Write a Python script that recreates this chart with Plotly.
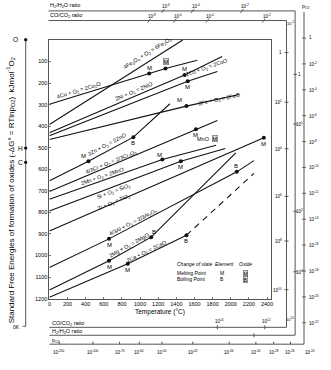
import plotly.graph_objects as go

# ---------------- data ----------------
temp_ticks = list(range(0, 2401, 200))
dg_ticks = list(range(100, 1201, 100))

cu_T = [0, 1100, 1280, 1630]
cu_G = [298, 156, 132, 94]
fe3o4_T = [0, 1470]
fe3o4_G = [392, 0]
ni_T = [0, 1490, 1905]
ni_G = [431, 163, 77]
co_T = [0, 1525, 1852]
co_G = [445, 192, 146]
feo_T = [0, 1511, 2091]
feo_G = [462, 307, 253]
zn_T = [0, 430, 926, 1329]
zn_G = [653, 563, 451, 296]
cr_T = [0, 1615, 1852]
cr_G = [703, 414, 374]
mn_T = [0, 1245, 1838]
mn_G = [739, 555, 489]
si_T = [0, 1449, 1939]
si_G = [794, 563, 504]
ti_T = [0, 2364]
ti_G = [886, 454]
al_T = [0, 657, 2066, 2255]
al_G = [1056, 923, 612, 560]
mg_T = [0, 657, 1122, 2055]
mg_G = [1160, 1025, 915, 524]
ca_T = [0, 864, 1511]
ca_G = [1194, 1038, 906]
ca_vap_T = [1511, 2255]
ca_vap_G = [906, 619]

# nomogram scale labels
h2_top_labels = ["10<sup>-6</sup>", "10<sup>-4</sup>", "10<sup>-2</sup>"]
co_top_labels = ["10<sup>-8</sup>", "10<sup>-6</sup>", "10<sup>-4</sup>", "10<sup>-2</sup>"]
co_right_labels = ["1", "10<sup>2</sup>", "10<sup>4</sup>", "10<sup>6</sup>", "10<sup>8</sup>", "10<sup>10</sup>"]
h2_right_labels = ["1", "10<sup>1</sup>", "10<sup>2</sup>", "10<sup>3</sup>"]
po2_right_labels = ["1", "10<sup>-2</sup>", "10<sup>-4</sup>", "10<sup>-6</sup>", "10<sup>-8</sup>", "10<sup>-10</sup>",
                    "10<sup>-12</sup>", "10<sup>-14</sup>", "10<sup>-16</sup>", "10<sup>-18</sup>", "10<sup>-20</sup>",
                    "10<sup>-22</sup>"]
co_bottom_labels = ["10<sup>14</sup>", "10<sup>12</sup>"]
po2_bottom_labels = ["10<sup>-200</sup>", "10<sup>-100</sup>", "10<sup>-70</sup>", "10<sup>-60</sup>", "10<sup>-50</sup>",
                     "10<sup>-42</sup>", "10<sup>-34</sup>", "10<sup>-30</sup>", "10<sup>-28</sup>", "10<sup>-26</sup>",
                     "10<sup>-24</sup>"]

# ---------------- figure ----------------
W, H = 331, 370
FONT = "Liberation Sans Narrow, Liberation Sans, Arial, sans-serif"
INK = "#000000"
FRAME = "#555555"


def px(x):
    return x / W


def py(y):
    return 1 - y / H


fig = go.Figure()

series = [(cu_T, cu_G), (fe3o4_T, fe3o4_G), (ni_T, ni_G), (co_T, co_G), (feo_T, feo_G),
          (zn_T, zn_G), (cr_T, cr_G), (mn_T, mn_G), (si_T, si_G), (ti_T, ti_G),
          (al_T, al_G), (mg_T, mg_G), (ca_T, ca_G)]
for T, G in series:
    fig.add_trace(go.Scatter(x=T, y=G, mode="lines", line=dict(color="#111111", width=1.1),
                             hoverinfo="skip", showlegend=False))
fig.add_trace(go.Scatter(x=ca_vap_T, y=ca_vap_G, mode="lines",
                         line=dict(color="#111111", width=1.1, dash="6px,5px"),
                         hoverinfo="skip", showlegend=False))

# change-of-state points: (T, G, label, dx, dy, boxed)
points = [
    (cu_T[1], cu_G[1], "M", 0, 6, False),
    (cu_T[2], cu_G[2], "M", 0, 7, True),
    (ni_T[1], ni_G[1], "M", 0, 6, False),
    (co_T[1], co_G[1], "M", 0, -6, False),
    (feo_T[1], feo_G[1], "M", -7, 6, False),
    (zn_T[1], zn_G[1], "M", -5, 5, False),
    (zn_T[2], zn_G[2], "B", 0, -6, False),
    (cr_T[1], cr_G[1], "M", 0, -6, False),
    (mn_T[1], mn_G[1], "M", -3, 5, False),
    (si_T[1], si_G[1], "M", 0, -6, False),
    (ti_T[1], ti_G[1], "M", 0, -6, False),
    (al_T[1], al_G[1], "M", 0, -6, False),
    (al_T[2], al_G[2], "B", -1, 6, False),
    (mg_T[1], mg_G[1], "M", 0, -6, False),
    (mg_T[2], mg_G[2], "B", 3, 5, False),
    (ca_T[1], ca_G[1], "M", 0, -6, False),
    (ca_T[2], ca_G[2], "B", 0, -6, False),
]
fig.add_trace(go.Scatter(x=[p[0] for p in points], y=[p[1] for p in points], mode="markers",
                         marker=dict(size=4, color="#111111"), hoverinfo="skip", showlegend=False))

annotations = []
for T, G, lab, dx, dy, boxed in points:
    a = dict(x=T, y=G, xref="x", yref="y", text=lab, showarrow=False, xshift=dx, yshift=dy,
             font=dict(family=FONT, size=6, color=INK))
    if boxed:
        a.update(bgcolor="#d8d8d8", bordercolor="#666", borderwidth=0.6, borderpad=0)
    annotations.append(a)

# reaction labels: (text, T, G, angle)
reactions = [
    ("4Cu + O<sub>2</sub> = 2Cu<sub>2</sub>O", 327, 233, -17),
    ("4Fe<sub>3</sub>O<sub>4</sub> + O<sub>2</sub> = 6Fe<sub>2</sub>O<sub>3</sub>", 1078, 63, -32),
    ("2Ni + O<sub>2</sub> = 2NiO", 937, 238, -23),
    ("2Co + O<sub>2</sub> = 2CoO", 1743, 130, -19),
    ("2Fe + O<sub>2</sub> = 2FeO", 1874, 274, -12),
    ("2Zn + O<sub>2</sub> = 2ZnO", 643, 486, -28),
    ("4/3Cr + O<sub>2</sub> = 2/3Cr<sub>2</sub>O<sub>3</sub>", 675, 569, -22),
    ("2Mn + O<sub>2</sub> = 2MnO", 588, 633, -19),
    ("Si + O<sub>2</sub> = SiO<sub>2</sub>", 708, 702, -20),
    ("Ti + O<sub>2</sub> = TiO<sub>2</sub>", 708, 755, -23),
    ("4/3Al + O<sub>2</sub> = 2/3Al<sub>2</sub>O<sub>3</sub>", 926, 849, -27),
    ("2Mg + O<sub>2</sub> = 2MgO", 882, 955, -29),
    ("2Ca + O<sub>2</sub> = 2CaO", 1078, 983, -26),
]
for text, T, G, ang in reactions:
    annotations.append(dict(x=T, y=G, xref="x", yref="y", text=text, showarrow=False, textangle=ang,
                            xanchor="center", yanchor="middle",
                            font=dict(family=FONT, size=5.5, color=INK)))
annotations.append(dict(x=1699, y=459, xref="x", yref="y", text="MnO", showarrow=False,
                        font=dict(family=FONT, size=5.5, color=INK)))
annotations.append(dict(x=1826, y=457, xref="x", yref="y", text="M", showarrow=False,
                        bgcolor="#d8d8d8", bordercolor="#666", borderwidth=0.6, borderpad=0,
                        font=dict(family=FONT, size=5.5, color=INK)))


def pann(x, y, text, size=5, xanchor="center", yanchor="middle", angle=0, italic=False, color=INK, **kw):
    f = dict(family=FONT, size=size, color=color)
    if italic:
        f["style"] = "italic"
    d = dict(x=px(x), y=py(y), xref="paper", yref="paper", text=text, showarrow=False,
             xanchor=xanchor, yanchor=yanchor, textangle=angle, font=f)
    d.update(kw)
    annotations.append(d)


# axis titles
pann(160, 315, "Temperature (°C)", size=6.5)
pann(9, 192, "Standard Free Energies of formation of oxides (-ΔG° = RTlnp<sub>O2</sub>)  kJmol<sup>-1</sup>O<sub>2</sub>",
     size=8, angle=-90)

# legend
pann(175, 266.5, "Change of state", size=5, xanchor="left", italic=True)
pann(225, 266.5, "Element", size=5, italic=True)
pann(246.5, 266.5, "Oxide", size=5, italic=True)
pann(175, 275.5, "Melting Point", size=5, xanchor="left")
pann(175, 281.5, "Boiling Point", size=5, xanchor="left")
pann(223, 275.5, "M", size=5)
pann(223, 281.5, "B", size=5)
pann(246, 275.5, "M", size=5, bgcolor="#d8d8d8", bordercolor="#666", borderwidth=0.6, borderpad=0)
pann(246, 282, "B", size=5, bgcolor="#d8d8d8", bordercolor="#666", borderwidth=0.6, borderpad=0)

# left 0 K line with pivot points
shapes = []


def pline(x0, y0, x1, y1, color=FRAME, width=1):
    shapes.append(dict(type="line", xref="paper", yref="paper", x0=px(x0), y0=py(y0), x1=px(x1), y1=py(y1),
                       line=dict(color=color, width=width)))


pline(24, 40, 24, 329)
pline(21, 329, 24, 329)
for yy, lab in [(40, "O"), (149.3, "H"), (163.7, "C")]:
    shapes.append(dict(type="circle", xref="paper", yref="paper", x0=px(22.3), x1=px(25.7),
                       y0=py(yy + 1.7), y1=py(yy - 1.7), fillcolor="#111111", line=dict(width=0)))
    pann(18.5, yy, lab, size=6.5, xanchor="right" if lab == "O" else "center")
pann(20, 330, "0K", size=5, xanchor="right")

# nomogram frames
pline(47, 11, 296.7, 11)
pline(296.7, 11, 296.7, 338)
pline(48, 338, 296.7, 338)
pline(47, 20.7, 288, 20.7)
pline(288, 20.7, 288, 330)
pline(48, 330, 288, 330)
pline(305.7, 12, 305.7, 347)
pline(48, 347, 305.7, 347)

pann(47, 5.5, "H<sub>2</sub>/H<sub>2</sub>O ratio", size=5.5, xanchor="left")
pann(47, 15.5, "CO/CO<sub>2</sub> ratio", size=5.5, xanchor="left")
pann(308, 6.5, "p<sub>O2</sub>", size=5, xanchor="center")
pann(49, 326, "CO/CO<sub>2</sub> ratio", size=5.5, xanchor="left")
pann(49, 334.5, "H<sub>2</sub>/H<sub>2</sub>O ratio", size=5.5, xanchor="left")
pann(49, 343.5, "p<sub>O2</sub>", size=5, xanchor="left")

for x, lab in zip([163, 193, 243], h2_top_labels):
    pline(x - 1.5, 13, x + 1.5, 9)
    pann(x + 3, 6, lab, size=4.5)
for x, lab in zip([149, 175, 208, 265], co_top_labels):
    pline(x - 1.5, 22.7, x + 1.5, 18.7)
    pann(x + 3, 16, lab, size=4.5)
pann(292, 23.5, "10<sup>-1</sup>", size=4)
for y, lab in zip([53, 103, 150, 198, 243, 292], co_right_labels):
    pline(286, y, 290, y)
    pann(285, y, lab, size=4.5, xanchor="right")
for y, lab in zip([75, 125, 213, 274], h2_right_labels):
    pline(295, y, 298.5, y)
    pann(301.5, y, lab, size=4.5)
pann(291.5, 322, "10<sup>14</sup>", size=4)
for i, lab in enumerate(po2_right_labels):
    y = 38.3 + i * 26.1
    pline(304, y, 307.5, y)
    pann(309, y, lab, size=4.5, xanchor="left")
for x, lab in zip([218, 266], co_bottom_labels):
    pline(x, 328, x, 332)
    pann(x + 2, 324, lab, size=4.5)
pline(255, 336, 255, 340)
for x, lab in zip([58, 92, 119, 139, 162, 193, 230, 257, 275, 292, 312], po2_bottom_labels):
    if x < 305:
        pline(x, 344.5, x, 347)
    pann(x, 355, lab, size=4.5)

axis_common = dict(showgrid=False, zeroline=False, showline=True, mirror=True, linecolor=FRAME, linewidth=1,
                   ticks="inside", ticklen=2, tickcolor=FRAME, tickwidth=0.8,
                   tickfont=dict(family=FONT, size=5.5, color=INK))
fig.update_layout(
    width=W, height=H, margin=dict(l=0, r=0, t=0, b=0),
    paper_bgcolor="white", plot_bgcolor="white", showlegend=False,
    xaxis=dict(domain=[px(48), px(272)], range=[0, 2440], tickvals=temp_ticks, **axis_common),
    yaxis=dict(domain=[py(301), py(40.3)], range=[1200, 0], tickvals=dg_ticks, **axis_common),
    annotations=annotations, shapes=shapes,
)

fig.write_html("out.html", config={"displayModeBar": False, "staticPlot": True},
               post_script="document.body.style.margin='0';document.body.style.overflow='hidden';")
